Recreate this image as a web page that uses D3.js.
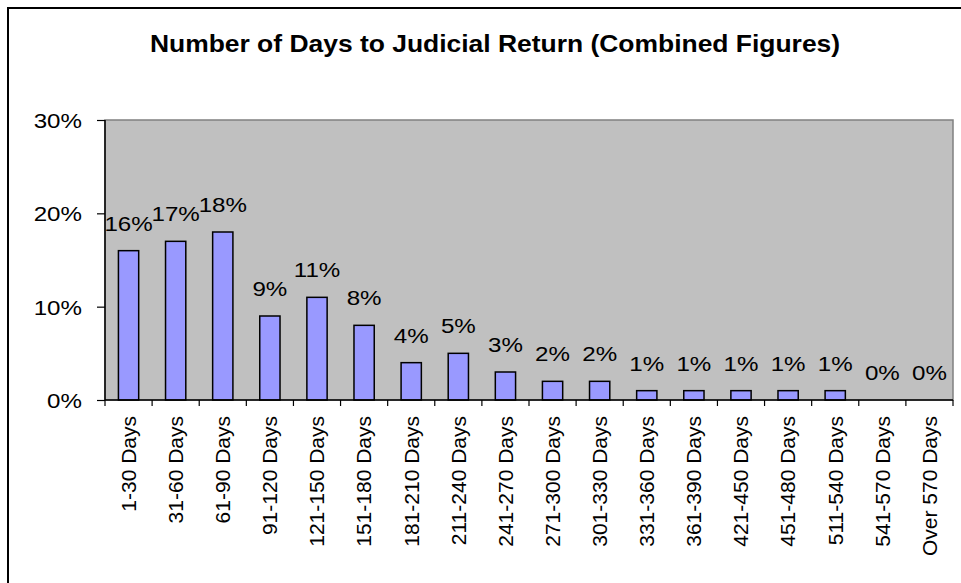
<!DOCTYPE html>
<html>
<head>
<meta charset="utf-8">
<script src="https://cdn.jsdelivr.net/npm/d3@7"></script>
<style>
  html, body { margin: 0; padding: 0; background: #fff; }
  svg { display: block; }
  text { font-family: "Liberation Sans", Arial, sans-serif; fill: #000; }
</style>
</head>
<body>
<svg id="chart" width="961" height="583"></svg>
<script>
const title = "Number of Days to Judicial Return (Combined Figures)";
const categories = ["1-30 Days","31-60 Days","61-90 Days","91-120 Days","121-150 Days","151-180 Days",
  "181-210 Days","211-240 Days","241-270 Days","271-300 Days","301-330 Days","331-360 Days",
  "361-390 Days","421-450 Days","451-480 Days","511-540 Days","541-570 Days","Over 570 Days"];
const values = [16,17,18,9,11,8,4,5,3,2,2,1,1,1,1,1,0,0];
const yTicks = [0,10,20,30];

const svg = d3.select("#chart");
const W = 961, H = 583;
const plot = {left: 105, right: 953, top: 120, bottom: 400};
const sx = 1.15; // horizontal text stretch seen in the reference

// outer frame
svg.append("rect").attr("x", 8).attr("y", 8).attr("width", 960).attr("height", 600)
  .attr("fill", "#fff").attr("stroke", "#000").attr("stroke-width", 2);

const x = d3.scaleBand().domain(categories).range([plot.left, plot.right]).padding(0);
const y = d3.scaleLinear().domain([0, 30]).range([plot.bottom, plot.top]);

// plot area
svg.append("rect").attr("x", plot.left).attr("y", plot.top)
  .attr("width", plot.right - plot.left).attr("height", plot.bottom - plot.top)
  .attr("fill", "#C0C0C0").attr("stroke", "#808080").attr("stroke-width", 1.5);

// title
svg.append("text").attr("x", 0).attr("y", 0)
  .attr("transform", `translate(${(148+842)/2},52) scale(${sx},1)`)
  .attr("text-anchor", "middle").attr("font-weight", "bold").attr("font-size", 23)
  .text(title);

// bars
const bw = x.bandwidth() * 0.43;
svg.append("g").selectAll("rect").data(values).join("rect")
  .attr("x", (d, i) => x(categories[i]) + x.bandwidth() / 2 - bw / 2)
  .attr("y", d => y(d))
  .attr("width", bw)
  .attr("height", d => y(0) - y(d))
  .attr("fill", "#9999FF").attr("stroke", "#000").attr("stroke-width", 1.5)
  .style("display", d => d > 0 ? null : "none");

// data labels
svg.append("g").selectAll("text").data(values).join("text")
  .attr("transform", (d, i) => `translate(${x(categories[i]) + x.bandwidth() / 2},${y(d) - 20}) scale(${sx},1)`)
  .attr("text-anchor", "middle").attr("font-size", 21)
  .text(d => d + "%");

// y axis
const yAxis = d3.axisLeft(y).tickValues(yTicks).tickSize(8).tickFormat(d => d + "%");
const gy = svg.append("g").attr("transform", `translate(${plot.left},0)`).call(yAxis);
gy.select(".domain").attr("stroke", "#000").attr("stroke-width", 1.5).attr("d", `M0,${plot.top}V${plot.bottom}`);
gy.selectAll(".tick line").attr("stroke", "#000").attr("stroke-width", 1.2);
gy.selectAll(".tick text").attr("font-size", 21).attr("font-family", "Liberation Sans, Arial, sans-serif")
  .attr("x", 0).attr("dy", "0.35em")
  .attr("transform", `translate(-23,0) scale(${sx},1)`);

// x axis
const xAxis = d3.axisBottom(x).tickSize(0).tickFormat(d => d);
const gx = svg.append("g").attr("transform", `translate(0,${plot.bottom})`).call(xAxis);
gx.select(".domain").attr("stroke", "#000").attr("stroke-width", 1.5).attr("d", `M${plot.left},0H${plot.right}`);
gx.selectAll(".tick text").attr("font-size", 21).attr("font-family", "Liberation Sans, Arial, sans-serif")
  .attr("text-anchor", "end").attr("x", 0).attr("y", 0).attr("dy", "0.35em")
  .attr("transform", "translate(0,16) rotate(-90)");
// tick marks at band edges
const edges = categories.map(c => x(c)).concat([plot.right]);
gx.append("g").selectAll("line").data(edges).join("line")
  .attr("x1", d => d).attr("x2", d => d).attr("y1", 0).attr("y2", 6)
  .attr("stroke", "#000").attr("stroke-width", 1.2);
</script>
</body>
</html>
